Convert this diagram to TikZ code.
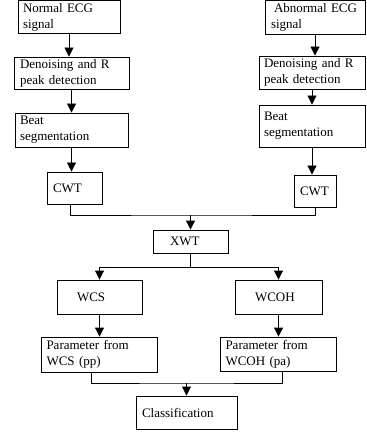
\documentclass[tikz,border=0pt]{standalone}
\usepackage{fontspec}
\setmainfont{Liberation Serif}
\usetikzlibrary{arrows.meta,positioning}
\tikzstyle{block} = [draw, rectangle, align=left, inner ysep=0pt, line width=0.9pt, font=\fontsize{13}{16}\selectfont]
\tikzstyle{junction} = [coordinate]

\begin{document}
\begin{tikzpicture}[x=1pt, y=1pt, node distance=57pt, >={Triangle[length=9pt,width=9pt]}, line width=0.9pt]
\useasboundingbox (0,0) rectangle (366,-435);

% left column: normal beats
\node [block, text width=92pt, inner xsep=5pt, minimum height=33pt] (normal) at (69,-17) {Normal ECG\\signal};
\node [block, below of=normal, node distance=56pt, xshift=2.5pt, text width=103pt, inner xsep=6pt, minimum height=32pt] (denoiseL) {Denoising and R\\peak detection};
\node [block, below of=denoiseL, text width=103pt, inner xsep=5pt, minimum height=34pt] (beatL) {Beat\\segmentation};
\node [block, below of=beatL, node distance=58pt, xshift=3pt, text width=43pt, inner xsep=6pt, minimum height=32pt] (cwtL) {CWT};

% right column: abnormal beats
\node [block, text width=88pt, inner xsep=6pt, minimum height=34pt] (abnormal) at (315,-17) {\hspace*{3pt}Abnormal ECG\\signal};
\node [block, below of=abnormal, node distance=55.5pt, xshift=-3pt, text width=96pt, inner xsep=5pt, minimum height=33pt] (denoiseR) {Denoising and R\\peak detection};
\node [block, below of=denoiseR, node distance=53.5pt, text width=96pt, inner xsep=5pt, minimum height=42pt] (beatR) {Beat\\segmentation};
\node [block, below of=beatR, node distance=65pt, xshift=3pt, text width=30pt, inner xsep=6pt, minimum height=32pt] (cwtR) {CWT};

% cross wavelet part
\node [block, text width=41pt, inner xsep=17pt, minimum height=23pt] (xwt) at (190.5,-241.5) {XWT};
\node [block, text width=45pt, inner xsep=20pt, minimum height=34pt] (wcs) at (99.5,-297) {WCS};
\node [block, text width=47pt, inner xsep=20pt, minimum height=34pt] (wcoh) at (278.5,-297) {WCOH};
\node [block, below of=wcs, node distance=57.5pt, text width=106pt, inner xsep=5pt, minimum height=35pt] (paramWCS) {Parameter from\\WCS (pp)};
\node [block, below of=wcoh, node distance=57pt, text width=106pt, inner xsep=5pt, minimum height=34pt] (paramWCOH) {Parameter from\\WCOH (pa)};
\node [block, text width=89pt, inner xsep=6pt, minimum height=33pt] (class) at (186.5,-412.5) {Classification};

\node [junction, above of=xwt, node distance=26.5pt] (join) {};
\node [junction, below of=xwt, node distance=25.5pt] (split) {};
\node [junction, above of=class, node distance=29.5pt] (merge) {};

\draw [->] (normal) -- (normal |- denoiseL.north);
\draw [->] (denoiseL) -- (denoiseL |- beatL.north);
\draw [->] (beatL) -- (beatL |- cwtL.north);
\draw [->] (abnormal) -- (abnormal |- denoiseR.north);
\draw [->] (denoiseR) -- (denoiseR |- beatR.north);
\draw [->] (beatR) -- (beatR |- cwtR.north);

\draw ([xshift=-4pt]cwtL.south) |- (join) -| (cwtR.south);
\draw [->] (join) -- (xwt);
\draw (xwt) -- (split);
\draw [->] (split) -| (wcs);
\draw [->] (split) -| (wcoh);
\draw [->] (wcs) -- (paramWCS);
\draw [->] (wcoh) -- (paramWCOH);
\draw ([xshift=-8pt]paramWCS.south) |- (merge) -| ([xshift=4pt]paramWCOH.south);
\draw [->] (merge) -- (class);
\end{tikzpicture}
\end{document}
